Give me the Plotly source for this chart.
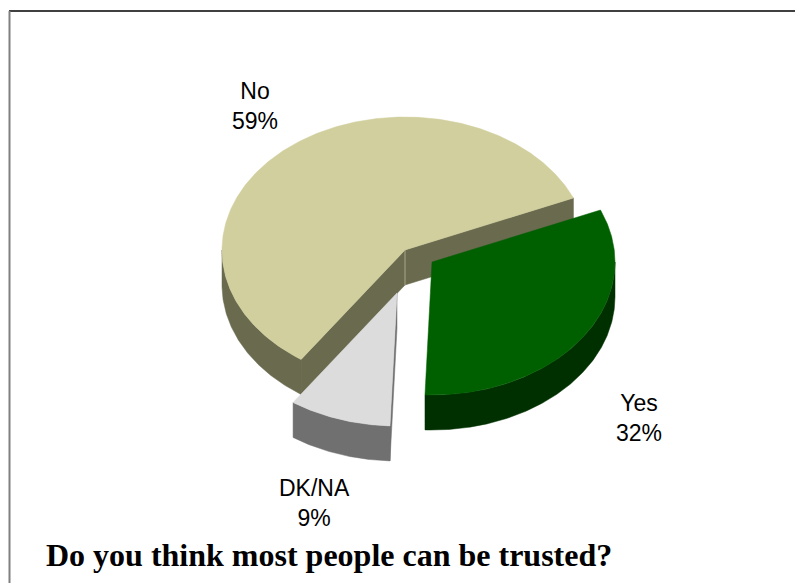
import numpy as np
import plotly.graph_objects as go

# Survey answers, listed clockwise from the first slice edge
labels = ["Yes", "DK/NA", "No"]
values = [32, 9, 59]

# Face colours per slice: top face and side walls
top_colors = ["#006000", "#DCDCDC", "#D0CF9D"]
side_colors = ["#003000", "#707070", "#6A6A4F"]

title_text = "Do you think most people can be trusted?"

# Pie geometry in page pixels (axes are mapped 1:1 onto the page)
W, H = 795, 583
CX, CY = 405, 250          # centre of the top ellipse
RX, RY = 183, 133          # ellipse radii (tilted disc)
DEPTH = 35                 # thickness of the disc
START = 23.0               # angle (deg, counter-clockwise from 3 o'clock) of first edge
EXPLODE = {"Yes": (27, 12), "DK/NA": (-8, 43), "No": (0, 0)}
LABEL_POS = {"Yes": (639, 418), "DK/NA": (314, 503), "No": (255, 106)}


def pt(a_deg, ox, oy, dz=0.0):
    a = np.radians(a_deg)
    return CX + ox + RX * np.cos(a), CY + oy - RY * np.sin(a) + dz


def arc(lo, hi, ox, oy, dz=0.0, n=None):
    n = n or max(int(abs(hi - lo) * 2), 4)
    a = np.linspace(lo, hi, n)
    x, y = pt(a, ox, oy, dz)
    return list(x), list(y)


def poly(xs, ys, color):
    return go.Scatter(
        x=xs + [xs[0]], y=ys + [ys[0]], mode="lines", fill="toself",
        fillcolor=color, line=dict(color=color, width=0.5),
        hoverinfo="skip", showlegend=False,
    )


# slice angles (clockwise from START)
total = float(sum(values))
spans = {}
edge = START
for lab, v in zip(labels, values):
    sweep = v / total * 360.0
    spans[lab] = (edge - sweep, edge)  # (lo, hi) in counter-clockwise terms
    edge -= sweep

fig = go.Figure()

# back-to-front: No, DK/NA, Yes
for lab in ["No", "DK/NA", "Yes"]:
    i = labels.index(lab)
    lo, hi = spans[lab]
    ox, oy = EXPLODE[lab]
    side = side_colors[i]
    top = top_colors[i]
    cx, cy = CX + ox, CY + oy

    # curved outer wall on the front half of the disc
    for k in range(-2, 3):
        f_lo, f_hi = max(lo, -180 + 360 * k), min(hi, 360 * k)
        if f_hi - f_lo > 0.01:
            tx, ty = arc(f_lo, f_hi, ox, oy)
            bx, by = arc(f_lo, f_hi, ox, oy, DEPTH)
            fig.add_trace(poly(tx + bx[::-1], ty + by[::-1], side))

    # flat radial walls facing the viewer
    for a, visible in ((lo, np.cos(np.radians(lo)) > 0),
                       (hi, np.cos(np.radians(hi)) < 0)):
        if visible:
            ex, ey = pt(a, ox, oy)
            fig.add_trace(poly([cx, float(ex), float(ex), cx],
                               [cy, float(ey), float(ey) + DEPTH, cy + DEPTH], side))

    # highlight on the vertical edge through the centre
    if lab == "No":
        fig.add_trace(go.Scatter(x=[cx, cx], y=[cy, cy + DEPTH], mode="lines",
                                 line=dict(color="#A8A88A", width=1),
                                 hoverinfo="skip", showlegend=False))

    # top face
    ax, ay = arc(lo, hi, ox, oy)
    fig.add_trace(poly([cx] + ax, [cy] + ay, top))

# category labels with percentages
for lab, v in zip(labels, values):
    lx, ly = LABEL_POS[lab]
    pct = round(v / total * 100)
    fig.add_annotation(x=lx, y=ly, text=f"{lab}<br>{pct}%", showarrow=False,
                       xanchor="center", yanchor="middle",
                       font=dict(family="Liberation Sans, Arial", size=23, color="#000000"))

fig.add_annotation(x=44, y=555, text=f"<b>{title_text}</b>", showarrow=False,
                   xanchor="left", yanchor="middle",
                   font=dict(family="Liberation Serif, Times New Roman", size=32, color="#000000"))

# frame: top rule and left rule
fig.add_shape(type="line", x0=9, x1=W, y0=11, y1=11, line=dict(color="#000000", width=1.5))
fig.add_shape(type="line", x0=9.5, x1=9.5, y0=11, y1=H, line=dict(color="#808080", width=2))

fig.update_layout(
    width=W, height=H, margin=dict(l=0, r=0, t=0, b=0),
    paper_bgcolor="white", plot_bgcolor="white",
    xaxis=dict(range=[0, W], visible=False, fixedrange=True),
    yaxis=dict(range=[H, 0], visible=False, fixedrange=True),
    showlegend=False,
)

fig.write_html("out.html", config={"displayModeBar": False})
